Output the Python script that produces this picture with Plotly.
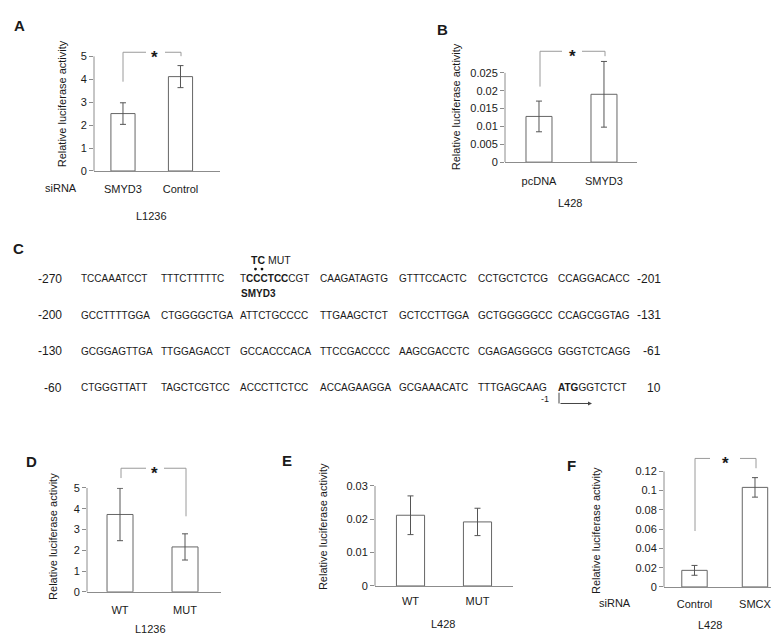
import plotly.graph_objects as go

W, H = 779, 634

# ---------------- data ----------------
A_categories = ["SMYD3", "Control"]
A_values = [2.50, 4.11]
A_errors = [0.47, 0.48]
A_ticks = [0, 1, 2, 3, 4, 5]
A_ticklabels = ["0", "1", "2", "3", "4", "5"]

B_categories = ["pcDNA", "SMYD3"]
B_values = [0.0128, 0.0190]
B_errors = [0.0043, 0.0092]
B_ticks = [0, 0.005, 0.01, 0.015, 0.02, 0.025]
B_ticklabels = ["0", "0.005", "0.01", "0.015", "0.02", "0.025"]

D_categories = ["WT", "MUT"]
D_values = [3.72, 2.16]
D_errors = [1.26, 0.63]
D_ticks = [0, 1, 2, 3, 4, 5]
D_ticklabels = ["0", "1", "2", "3", "4", "5"]

E_categories = ["WT", "MUT"]
E_values = [0.0212, 0.0192]
E_errors = [0.0058, 0.0041]
E_ticks = [0, 0.01, 0.02, 0.03]
E_ticklabels = ["0", "0.01", "0.02", "0.03"]

F_categories = ["Control", "SMCX"]
F_values = [0.0172, 0.1032]
F_errors = [0.0051, 0.0101]
F_ticks = [0, 0.02, 0.04, 0.06, 0.08, 0.10, 0.12]
F_ticklabels = ["0", "0.02", "0.04", "0.06", "0.08", "0.1", "0.12"]

seq_left_labels = ["-270", "-200", "-130", "-60"]
seq_right_labels = ["-201", "-131", "-61", "10"]
seq_lines = [
    ["TCCAAATCCT", "TTTCTTTTTC", "T<b>CCCTCC</b>CGT", "CAAGATAGTG", "GTTTCCACTC", "CCTGCTCTCG", "CCAGGACACC"],
    ["GCCTTTTGGA", "CTGGGGCTGA", "ATTCTGCCCC", "TTGAAGCTCT", "GCTCCTTGGA", "GCTGGGGGCC", "CCAGCGGTAG"],
    ["GCGGAGTTGA", "TTGGAGACCT", "GCCACCCACA", "TTCCGACCCC", "AAGCGACCTC", "CGAGAGGGCG", "GGGTCTCAGG"],
    ["CTGGGTTATT", "TAGCTCGTCC", "ACCCTTCTCC", "ACCAGAAGGA", "GCGAAACATC", "TTTGAGCAAG", "<b>ATG</b>GGTCTCT"],
]

# ---------------- helpers ----------------
def X(px):
    return px / W


def Y(py):
    return 1 - py / H


FONT = "Liberation Sans, Arial, sans-serif"
AXIS_COLOR = "#8c8c8c"
BAR_LINE = "#666666"
ERR_COLOR = "#555555"
TXT = "#1a1a1a"

# yd = (pixel row of ymax, pixel row of 0); ltop = top of the drawn axis line
panels = [
    dict(c=A_categories, v=A_values, e=A_errors, t=A_ticks, tl=A_ticklabels,
         xd=(86, 212), yd=(43, 160), ymax=5, ltop=5, xr=(-0.504, 1.687), bw=0.42, tlen=8),
    dict(c=B_categories, v=B_values, e=B_errors, t=B_ticks, tl=B_ticklabels,
         xd=(497, 629), yd=(41.8, 151), ymax=0.03, ltop=0.025, xr=(-0.523, 1.508), bw=0.40, tlen=9),
    dict(c=D_categories, v=D_values, e=D_errors, t=D_ticks, tl=D_ticklabels,
         xd=(79, 213), yd=(483, 589), ymax=5, ltop=5, xr=(-0.508, 1.554), bw=0.40, tlen=8),
    dict(c=E_categories, v=E_values, e=E_errors, t=E_ticks, tl=E_ticklabels,
         xd=(367, 505), yd=(481, 583), ymax=0.03, ltop=0.03, xr=(-0.53, 1.53), bw=0.42, tlen=5),
    dict(c=F_categories, v=F_values, e=F_errors, t=F_ticks, tl=F_ticklabels,
         xd=(656, 775), yd=(466, 584), ymax=0.12, ltop=0.12, xr=(-0.504, 1.463), bw=0.42, tlen=7),
]

fig = go.Figure()
layout = dict(
    width=W, height=H,
    margin=dict(l=0, r=0, t=0, b=0),
    paper_bgcolor="white", plot_bgcolor="white",
    showlegend=False,
    font=dict(family=FONT, size=11, color=TXT),
)

ann = []
shapes = []

for i, p in enumerate(panels):
    n = "" if i == 0 else str(i + 1)
    fig.add_trace(go.Bar(
        x=p["c"], y=p["v"], width=p["bw"],
        marker=dict(color="white", line=dict(color=BAR_LINE, width=1)),
        error_y=dict(type="data", array=p["e"], visible=True,
                     color=ERR_COLOR, thickness=1, width=3),
        xaxis="x" + n, yaxis="y" + n, cliponaxis=False,
        hoverinfo="skip",
    ))
    layout["xaxis" + n] = dict(
        domain=[X(p["xd"][0]), X(p["xd"][1])], anchor="y" + n,
        type="category", range=list(p["xr"]),
        showline=True, linecolor=AXIS_COLOR, linewidth=1,
        showgrid=False, zeroline=False,
        ticks="outside", ticklen=p["tlen"], tickcolor="rgba(0,0,0,0)",
        tickfont=dict(family=FONT, size=11, color=TXT), fixedrange=True,
    )
    layout["yaxis" + n] = dict(
        domain=[Y(p["yd"][1]), Y(p["yd"][0])], anchor="x" + n,
        range=[0, p["ymax"]], tickvals=p["t"], ticktext=p["tl"],
        showline=False,
        showgrid=False, zeroline=False,
        ticks="outside", ticklen=4, tickcolor=AXIS_COLOR,
        tickfont=dict(family=FONT, size=11, color=TXT), fixedrange=True,
    )
    # y-axis line from 0 up to the last tick
    shapes.append(dict(type="line", xref="x%s domain" % n, yref="y" + n,
                       x0=0, x1=0, y0=0, y1=p["ltop"],
                       line=dict(color=AXIS_COLOR, width=1)))

fig.update_layout(**layout)


def text(x, y, s, size=11, bold=False, xanchor="center", angle=0, color=TXT):
    ann.append(dict(
        x=X(x), y=Y(y), xref="paper", yref="paper",
        text=("<b>%s</b>" % s) if bold else s,
        showarrow=False, xanchor=xanchor, yanchor="middle",
        textangle=angle, font=dict(family=FONT, size=size, color=color),
        borderpad=0,
    ))


def line(x0, y0, x1, y1, color="#9a9a9a", w=1):
    shapes.append(dict(type="line", xref="paper", yref="paper",
                       x0=X(x0), y0=Y(y0), x1=X(x1), y1=Y(y1),
                       line=dict(color=color, width=w)))


def dot(cx, cy, r=1.4, color="#111111"):
    shapes.append(dict(type="circle", xref="paper", yref="paper",
                       x0=X(cx - r), x1=X(cx + r), y0=Y(cy + r), y1=Y(cy - r),
                       fillcolor=color, line=dict(width=0)))


def bracket(xl, xr, ytop, yl_bot, yr_bot, gap_l, gap_r, star_x):
    line(xl, ytop, xl, yl_bot)
    line(xr, ytop, xr, yr_bot)
    line(xl, ytop, gap_l, ytop)
    line(gap_r, ytop, xr, ytop)
    text(star_x, ytop + 5, "*", size=17, bold=True)


for lab, x, y in [("A", 11, 12), ("B", 434, 16), ("C", 10, 239),
                  ("D", 23, 456), ("E", 279, 455), ("F", 563, 460)]:
    text(x, y, lab, size=15, bold=True)

for x, y in [(54, 92), (448, 95), (45, 533), (315, 523), (588, 527)]:
    text(x, y, "Relative luciferase activity", size=11, angle=-90)

text(53, 177, "siRNA")
text(607, 600, "siRNA")
text(143, 206, "L1236")
text(562, 193, "L428")
text(142, 627, "L1236")
text(435, 622, "L428")
text(702, 623, "L428")

bracket(115, 173, 39, 69, 43, 138, 157, 146)
bracket(532, 597, 38, 74, 43, 554, 574, 564)
bracket(113, 178, 463, 473, 512, 138, 156, 146)
bracket(687, 748, 453, 527, 463, 702, 732, 717)

line_y = [270, 307, 344, 381]
for li, groups in enumerate(seq_lines):
    y = line_y[li]
    text(55, y, seq_left_labels[li], size=12, xanchor="right")
    text(654, y, seq_right_labels[li], size=12, xanchor="right")
    for gi, g in enumerate(groups):
        text(72 + 79.5 * gi, y, g, size=10, xanchor="left")

text(250, 251, "TC", size=10.5, bold=True)
text(259, 251, "MUT", size=10.5, xanchor="left")
dot(247.5, 260)
dot(254.0, 260)
text(250, 285, "SMYD3", size=10, bold=True)

text(537, 392, "-1", size=9)
line(551, 386, 551, 397, color="#444444")
ann.append(dict(x=X(584), y=Y(397), xref="paper", yref="paper", ax=-33, ay=0,
                text="", showarrow=True,
                arrowhead=2, arrowsize=0.8, arrowwidth=1, arrowcolor="#444444"))

fig.update_layout(annotations=ann, shapes=shapes)
fig.write_html("out.html")
